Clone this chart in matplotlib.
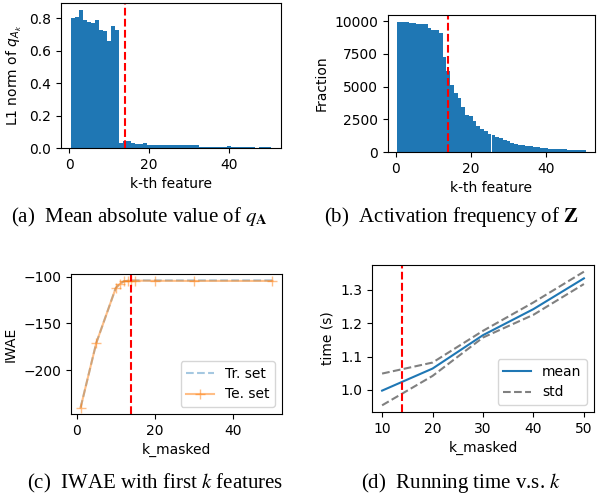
import numpy as np
import matplotlib
matplotlib.use("Agg")
import matplotlib.pyplot as plt

plt.rcParams["font.size"] = 10

# (a) mean absolute value of q_A per feature
k_feat = np.arange(1, 51)
q_norm = [0.802, 0.808, 0.851, 0.790, 0.779, 0.773, 0.790, 0.730, 0.722, 0.660,
          0.753, 0.730, 0.033, 0.041, 0.041, 0.033, 0.025, 0.025, 0.033, 0.020,
          0.020, 0.016, 0.020, 0.016, 0.016, 0.016, 0.016, 0.016, 0.016, 0.016,
          0.016, 0.016, 0.008, 0.008, 0.008, 0.008, 0.008, 0.008, 0.008, 0.014,
          0.008, 0.008, 0.008, 0.008, 0.008, 0.008, 0.0, 0.008, 0.008, 0.008]

# (b) activation frequency
act_freq = [9970, 9900, 9900, 9820, 9820, 9750, 9750, 9750, 9440, 9360,
            9290, 9060, 7230, 6160, 5090, 4480, 4100, 3410, 2800, 2720,
            2340, 1960, 1730, 1580, 1350, 1270, 1120, 1040, 890, 810,
            660, 585, 510, 510, 430, 430, 360, 360, 280, 280,
            200, 200, 200, 200, 200, 130, 130, 130, 130, 130]
freq_ticks = [0, 2500, 5000, 7500, 10000]

# (c) IWAE vs k_masked
k_masked = [1, 5, 10, 11, 12, 13, 14, 15, 20, 30, 50]
iwae_tr = [-240, -171, -112, -108, -105, -104.5, -104, -104, -104, -104, -104]
iwae_te = [-240, -171, -112, -108, -105, -104.5, -104.3, -104.3, -104.5, -104.6, -104.6]

# (d) running time
k_time = [10, 20, 30, 40, 50]
t_mean = [0.998, 1.064, 1.164, 1.242, 1.334]
t_upper = [1.049, 1.082, 1.177, 1.262, 1.354]
t_lower = [0.954, 1.042, 1.157, 1.225, 1.317]

k_cut = 14

W, H = 608, 496
fig = plt.figure(figsize=(W / 100, H / 100), dpi=100)


def box(l, r, t, b):
    return [l / W, 1 - b / H, (r - l) / W, (b - t) / H]


ax1 = fig.add_axes(box(61, 281, 3, 148))
ax1.bar(k_feat, q_norm, width=1.0, color="C0")
ax1.axvline(k_cut, color="r", ls="--", lw=1.5)
ax1.set_xlabel("k-th feature")
ax1.set_ylabel(r"L1 norm of $q_{A_k}$")

ax2 = fig.add_axes(box(388, 595, 15, 152))
ax2.bar(k_feat, act_freq, width=1.0, color="C0")
ax2.axvline(k_cut, color="r", ls="--", lw=1.5)
ax2.set_yticks(freq_ticks)
ax2.set_xlabel("k-th feature")
ax2.set_ylabel("Fraction")

ax3 = fig.add_axes(box(71, 282, 274, 414))
ax3.plot(k_masked, iwae_tr, "--", color="C0", alpha=0.4, label="Tr. set")
ax3.plot(k_masked, iwae_te, "-+", color="C1", alpha=0.5, ms=7, label="Te. set")
ax3.axvline(k_cut, color="r", ls="--", lw=1.5)
ax3.set_xlabel("k_masked")
ax3.set_ylabel("IWAE")
ax3.set_yticks([-100, -150, -200])
ax3.legend(loc="lower right")

ax4 = fig.add_axes(box(372, 594, 265, 412))
ax4.plot(k_time, t_mean, color="C0", label="mean")
ax4.plot(k_time, t_upper, "--", color="gray", label="std")
ax4.plot(k_time, t_lower, "--", color="gray")
ax4.axvline(k_cut, color="r", ls="--", lw=1.5)
ax4.set_xlabel("k_masked")
ax4.set_ylabel("time (s)")
ax4.set_xticks([10, 20, 30, 40, 50])
ax4.legend(loc="lower right")

cap = dict(fontsize=15, family="Liberation Serif", math_fontfamily="stix",
           ha="center", va="center")
fig.text(139 / W, 1 - 217 / H, r"(a)  Mean absolute value of $q_\mathbf{A}$", **cap)
fig.text(451 / W, 1 - 217 / H, r"(b)  Activation frequency of $\mathbf{Z}$", **cap)
fig.text(155 / W, 1 - 483 / H, r"(c)  IWAE with first $k$ features", **cap)
fig.text(461 / W, 1 - 483 / H, r"(d)  Running time v.s. $k$", **cap)

fig.savefig("out.png", dpi=100)
